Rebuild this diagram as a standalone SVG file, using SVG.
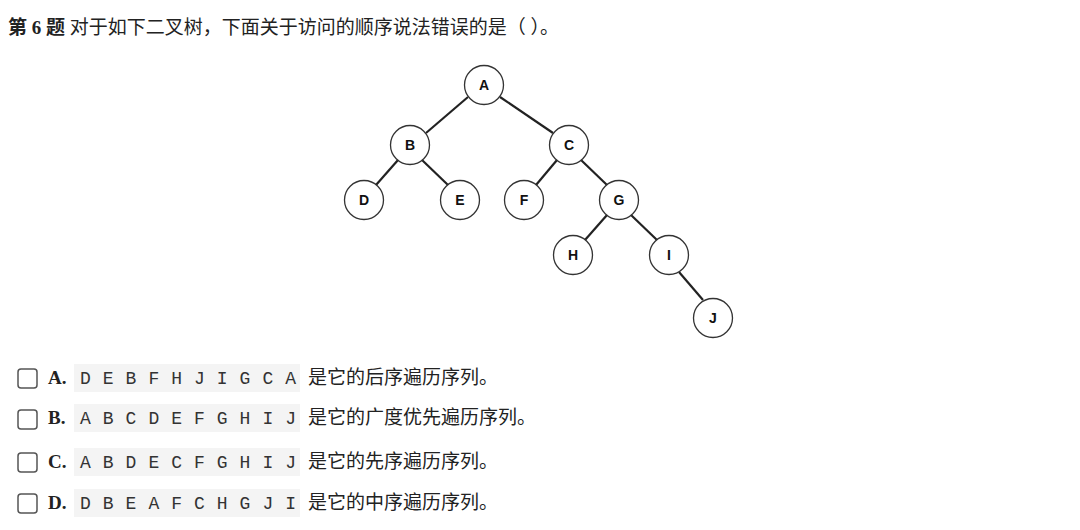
<svg xmlns="http://www.w3.org/2000/svg" width="1080" height="530" viewBox="0 0 1080 530">
<style>
.t{font-family:"Liberation Serif","Noto Sans CJK SC",serif;font-size:19px;fill:#222}
.b{font-weight:bold}
.m{font-family:"Liberation Mono",monospace;font-size:18px;fill:#333}
.cb{fill:#fff;stroke:#555;stroke-width:1.5}
.bg{fill:#f4f4f4}
.n circle{fill:#fff;stroke:#333;stroke-width:1.3}
.n text{font-family:"Liberation Sans",Arial,sans-serif;font-size:14px;font-weight:bold;text-anchor:middle;fill:#111}
.e line{stroke:#222;stroke-width:2.2}
</style>
<rect width="1080" height="530" fill="#fff"/>
<text class="t" x="8" y="34"><tspan class="b">第 6 题</tspan>  对于如下二叉树，下面关于访问的顺序说法错误的是（  ）。</text>
<g class="e">
<line x1="468" y1="97" x2="426" y2="133"/>
<line x1="500" y1="97" x2="553" y2="133"/>
<line x1="398" y1="160" x2="376" y2="185"/>
<line x1="422" y1="160" x2="448" y2="185"/>
<line x1="557" y1="160" x2="536" y2="185"/>
<line x1="581" y1="160" x2="607" y2="185"/>
<line x1="607" y1="215" x2="585" y2="240"/>
<line x1="631" y1="215" x2="657" y2="240"/>
<line x1="679" y1="272" x2="703" y2="300"/>
</g>
<g id="A" class="n"><circle cx="484" cy="85" r="19.5"/><text x="484" y="90">A</text></g>
<g id="B" class="n"><circle cx="410" cy="145" r="19.5"/><text x="410" y="150">B</text></g>
<g id="C" class="n"><circle cx="569" cy="145" r="19.5"/><text x="569" y="150">C</text></g>
<g id="D" class="n"><circle cx="364" cy="200" r="19.5"/><text x="364" y="205">D</text></g>
<g id="E" class="n"><circle cx="460" cy="200" r="19.5"/><text x="460" y="205">E</text></g>
<g id="F" class="n"><circle cx="524" cy="200" r="19.5"/><text x="524" y="205">F</text></g>
<g id="G" class="n"><circle cx="619" cy="200" r="19.5"/><text x="619" y="205">G</text></g>
<g id="H" class="n"><circle cx="573" cy="255" r="19.5"/><text x="573" y="260">H</text></g>
<g id="I" class="n"><circle cx="669" cy="255" r="19.5"/><text x="669" y="260">I</text></g>
<g id="J" class="n"><circle cx="713" cy="318" r="19.5"/><text x="713" y="323">J</text></g>
<g id="optA"><rect class="cb" x="18" y="369" width="19" height="19" rx="3"/><text class="t b" x="48" y="384">A.</text><rect class="bg" x="74" y="364" width="226" height="28"/><text class="m" x="80" y="384" textLength="216">D E B F H J I G C A</text><text class="t" x="308" y="384">是它的后序遍历序列。</text></g>
<g id="optB"><rect class="cb" x="18" y="410" width="19" height="19" rx="3"/><text class="t b" x="48" y="424">B.</text><rect class="bg" x="74" y="404" width="226" height="28"/><text class="m" x="80" y="424" textLength="216">A B C D E F G H I J</text><text class="t" x="308" y="424">是它的广度优先遍历序列。</text></g>
<g id="optC"><rect class="cb" x="18" y="453" width="19" height="19" rx="3"/><text class="t b" x="48" y="468">C.</text><rect class="bg" x="74" y="448" width="226" height="28"/><text class="m" x="80" y="468" textLength="216">A B D E C F G H I J</text><text class="t" x="308" y="468">是它的先序遍历序列。</text></g>
<g id="optD"><rect class="cb" x="18" y="494" width="19" height="19" rx="3"/><text class="t b" x="48" y="509">D.</text><rect class="bg" x="74" y="489" width="226" height="28"/><text class="m" x="80" y="509" textLength="216">D B E A F C H G J I</text><text class="t" x="308" y="509">是它的中序遍历序列。</text></g>
</svg>
